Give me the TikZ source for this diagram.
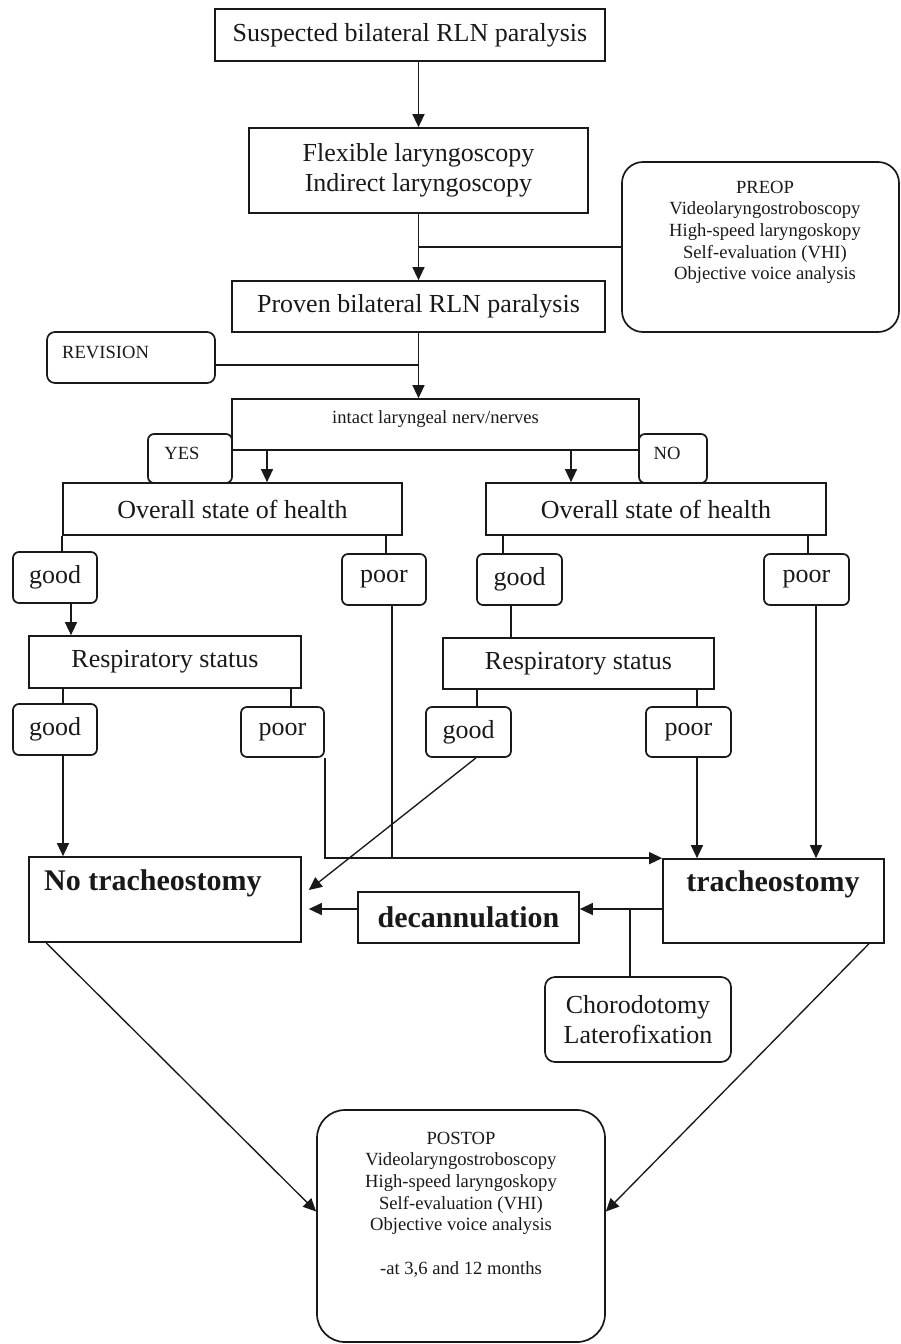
\documentclass[tikz,border=0pt]{standalone}
\usepackage{fontspec}
\setmainfont{Liberation Serif}
\usetikzlibrary{arrows.meta,calc}
\definecolor{ink}{RGB}{25,25,25}
\begin{document}
\begin{tikzpicture}[x=1pt,y=-1pt,
  box/.style={draw=ink, line width=1.7pt, inner sep=0pt, align=center, text=ink, font=\fontsize{26}{30}\selectfont},
  rbox/.style={box, rounded corners=6pt},
  small/.style={font=\fontsize{18.6}{21.7}\selectfont},
  boldtxt/.style={font=\fontsize{30}{34}\selectfont\bfseries},
  txt/.style={inner sep=0pt, align=center, text=ink},
  line/.style={draw=ink, line width=1.35pt},
  arr/.style={line, -{Triangle[length=13pt,width=12pt]}},
  sz/.style 2 args={minimum width=#1pt, minimum height=#2pt}
]
\useasboundingbox (0,0) rectangle (901,1344);

% boxes
\node[box, sz={390}{52}] (s1) at (410,35) {Suspected bilateral RLN paralysis};
\node[box, sz={339}{85}] (s2) at (418.5,170.5) {Flexible laryngoscopy\\Indirect laryngoscopy};
\node[box, rounded corners=21pt, sz={277}{170}] (pre) at (760.5,247) {};
\node[txt, small, anchor=north] (pret) at (765,180.6) {PREOP\\Videolaryngostroboscopy\\High-speed laryngoskopy\\Self-evaluation (VHI)\\Objective voice analysis};
\node[box, sz={373}{51}] (s3) at (418.5,306.5) {Proven bilateral RLN paralysis};
\node[box, rounded corners=8pt, sz={168}{51}] (rev) at (131,357.5) {};
\node[txt, small, anchor=west] (revt) at (62,352) {REVISION};
\node[box, sz={407}{51}] (s4) at (435.5,424.5) {};
\node[txt, small] (s4t) at (435.5,419) {intact laryngeal nerv/nerves};
\node[rbox, sz={84}{49}] (yes) at (190,458.5) {};
\node[txt, small] (yest) at (182,453) {YES};
\node[rbox, sz={68}{49}] (no) at (673,458.5) {};
\node[txt, small] (not) at (667,453) {NO};

\node[box, sz={339}{52}] (ovL) at (232.5,509) {Overall state of health};
\node[box, sz={340}{52}] (ovR) at (656,509) {Overall state of health};
\node[rbox, sz={84}{51}] (gL1) at (55,577.5) {good};
\node[rbox, sz={84}{51}] (pL1) at (384,579.5) {poor};
\node[rbox, sz={85}{51}] (gR1) at (519.5,579.5) {good};
\node[rbox, sz={85}{51}] (pR1) at (806.5,579.5) {poor};
\node[box, sz={272}{52}] (rL) at (165,662) {Respiratory status};
\node[box, sz={271}{51}] (rR) at (578.5,663.5) {Respiratory status};
\node[rbox, sz={84}{51}] (gL2) at (55,729.5) {good};
\node[rbox, sz={83}{50}] (pL2) at (282.5,732) {poor};
\node[rbox, sz={85}{50}] (gR2) at (468.5,732) {good};
\node[rbox, sz={85}{50}] (pR2) at (688.5,732) {poor};

\node[box, sz={272}{85}] (nt) at (165,899.5) {};
\node[txt, boldtxt, anchor=west] (ntt) at (44,883) {No tracheostomy};
\node[box, sz={221}{84}] (tr) at (773.5,901) {};
\node[txt, boldtxt] (trt) at (773,884) {tracheostomy};
\node[box, boldtxt, sz={221}{51}] (dec) at (468.5,917.5) {decannulation};
\node[box, rounded corners=10pt, sz={186}{85}] (ch) at (638,1019.5) {Chorodotomy\\Laterofixation};
\node[box, rounded corners=28pt, sz={288}{232}] (post) at (461,1226) {};
\node[txt, small, anchor=north] (postt) at (461,1131.5) {POSTOP\\Videolaryngostroboscopy\\High-speed laryngoskopy\\Self-evaluation (VHI)\\Objective voice analysis\\[21.7pt]-at 3,6 and 12 months};

% connectors
\draw[arr] (s1.south -| s2.north) -- (s2.north);
\draw[arr] (s2.south) -- (s3.north);
\draw[line] (pre.west) -- (pre.west -| s2.south);
\draw[arr] (s3.south) -- (s3.south |- s4.north);
\draw[line] ([yshift=-7.5pt]rev.east) -- ([yshift=-7.5pt]rev.east -| s3.south);
\draw[arr] ([xshift=34.5pt]ovL.north |- s4.south) -- ([xshift=34.5pt]ovL.north);
\draw[arr] ([xshift=-85pt]ovR.north |- s4.south) -- ([xshift=-85pt]ovR.north);
\draw[line] (ovL.south west) -- (ovL.south west |- gL1.north);
\draw[line] ([xshift=2pt]pL1.north |- ovL.south) -- ([xshift=2pt]pL1.north);
\draw[line] ([xshift=-16.5pt]gR1.north |- ovR.south) -- ([xshift=-16.5pt]gR1.north);
\draw[line] ([xshift=1.5pt]pR1.north |- ovR.south) -- ([xshift=1.5pt]pR1.north);
\draw[arr] ([xshift=16pt]gL1.south) -- ([xshift=16pt]gL1.south |- rL.north);
\draw[line] ([xshift=-8.5pt]gR1.south) -- ([xshift=-8.5pt]gR1.south |- rR.north);
\draw[line] ([xshift=8pt]gL2.north |- rL.south) -- ([xshift=8pt]gL2.north);
\draw[line] ([xshift=8.5pt]pL2.north |- rL.south) -- ([xshift=8.5pt]pL2.north);
\draw[line] ([xshift=8.5pt]gR2.north |- rR.south) -- ([xshift=8.5pt]gR2.north);
\draw[line] ([xshift=8.5pt]pR2.north |- rR.south) -- ([xshift=8.5pt]pR2.north);
\draw[arr] ([xshift=8pt]gL2.south) -- ([xshift=8pt]gL2.south |- nt.north);
\draw[arr] (pL2.south east) |- (tr.north west);
\draw[line] ([xshift=8pt]pL1.south) -- ([xshift=8pt]pL1.south |- tr.north west);
\draw[arr] ([xshift=7.5pt]gR2.south) -- ([xshift=7pt,yshift=9.5pt]nt.east);
\draw[arr] ([xshift=8.5pt]pR2.south) -- ([xshift=8.5pt]pR2.south |- tr.north);
\draw[arr] ([xshift=9.5pt]pR1.south) -- ([xshift=9.5pt]pR1.south |- tr.north);
\coordinate (tj) at ([yshift=-8pt]tr.west);
\draw[arr] (tj) -- (tj -| dec.east);
\draw[arr] ([yshift=8.5pt]dec.west) -- ([xshift=7pt,yshift=-9.5pt]nt.east);
\draw[line] ([xshift=-8pt]ch.north |- tj) -- ([xshift=-8pt]ch.north);
\draw[arr] ([xshift=18pt]nt.south west) -- ([yshift=14.5pt]post.west);
\draw[arr] ([xshift=-16pt]tr.south east) -- ([yshift=14.5pt]post.east);
\end{tikzpicture}
\end{document}
